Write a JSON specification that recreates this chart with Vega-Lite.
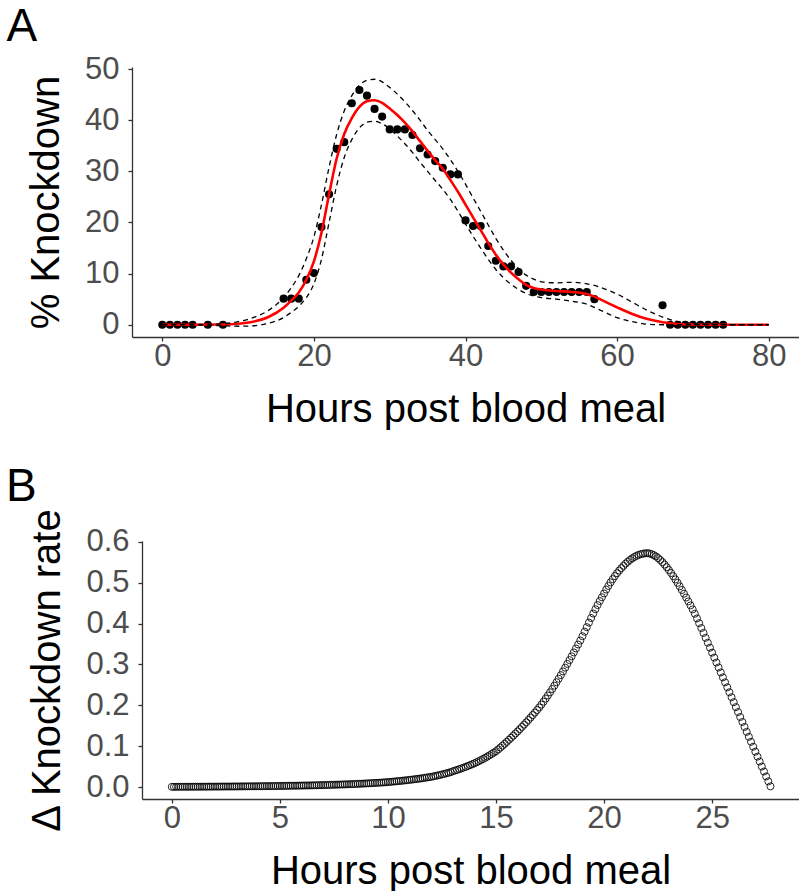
{
"$schema": "https://vega.github.io/schema/vega-lite/v6.json",
"background": "white",
"padding": {"left": 5, "top": 4, "right": 0, "bottom": 0},
"columns": 1,
"align": "none",
"bounds": "full",
"spacing": 34,
"config": {
  "view": {"stroke": null},
  "font": "Liberation Sans",
  "axis": {"domainColor": "#333333", "domainWidth": 1.3, "tickColor": "#333333", "tickWidth": 1.3, "tickSize": 4, "labelFontSize": 31, "labelColor": "#4d4d4d", "labelFont": "Liberation Sans", "titleFontSize": 40, "titleFont": "Liberation Sans", "titleFontWeight": "normal", "titleColor": "black", "grid": false, "titlePadding": 18},
  "axisX": {"labelPadding": 0},
  "axisY": {"labelPadding": 9},
  "title": {"fontSize": 46, "fontWeight": "normal", "font": "Liberation Sans", "anchor": "start", "frame": "bounds", "color": "black"}
},
"datasets": {
  "pts": [
    {"h":0,"k":0},{"h":1,"k":0},{"h":2,"k":0},{"h":3,"k":0},{"h":4,"k":0},{"h":6,"k":0},{"h":8,"k":0},
    {"h":16,"k":5.1},{"h":17,"k":5.1},{"h":18,"k":5.1},{"h":19,"k":8.8},{"h":20,"k":10.1},{"h":21,"k":19.1},{"h":22,"k":25.5},{"h":23,"k":34.4},{"h":24,"k":35.7},{"h":25,"k":43.3},{"h":26,"k":45.9},{"h":27,"k":44.8},{"h":28,"k":42.2},{"h":29,"k":40.7},{"h":30,"k":38.2},{"h":31,"k":38.2},{"h":32,"k":38.2},{"h":33,"k":37.1},{"h":34,"k":34.5},{"h":35,"k":33.3},{"h":36,"k":32.0},{"h":37,"k":30.7},{"h":38,"k":29.4},{"h":39,"k":29.4},
    {"h":40,"k":20.4},{"h":41,"k":19.3},{"h":42,"k":19.3},{"h":43,"k":15.4},{"h":44,"k":12.5},{"h":45,"k":11.4},{"h":46,"k":11.4},{"h":47,"k":10.3},{"h":48,"k":7.6},
    {"h":49,"k":6.4},{"h":50,"k":6.4},{"h":51,"k":6.4},{"h":52,"k":6.4},{"h":53,"k":6.4},{"h":54,"k":6.4},{"h":55,"k":6.4},{"h":56,"k":6.4},{"h":57,"k":5.0},{"h":66,"k":3.8},
    {"h":67,"k":0},{"h":68,"k":0},{"h":69,"k":0},{"h":70,"k":0},{"h":71,"k":0},{"h":72,"k":0},{"h":73,"k":0},{"h":74,"k":0}
  ],
  "fit": [
    {"h":0,"f":0,"up":0,"lo":0},{"h":4,"f":0,"up":0.05,"lo":-0.05},{"h":8,"f":0.05,"up":0.2,"lo":-0.2},{"h":10,"f":0.2,"up":0.6,"lo":-0.3},{"h":12,"f":0.6,"up":1.4,"lo":-0.2},{"h":14,"f":1.5,"up":2.8,"lo":0.3},{"h":16,"f":3.3,"up":5.3,"lo":1.4},{"h":17,"f":4.7,"up":7.2,"lo":2.4},{"h":18,"f":6.3,"up":9.6,"lo":3.6},{"h":19,"f":8.8,"up":12.9,"lo":5.3},{"h":20,"f":12.4,"up":17.2,"lo":8.0},{"h":21,"f":18.0,"up":23.5,"lo":12.8},{"h":22,"f":25.5,"up":30.8,"lo":20.0},{"h":23,"f":32.5,"up":37.2,"lo":27.2},{"h":24,"f":37.3,"up":41.8,"lo":32.7},{"h":25,"f":40.4,"up":44.8,"lo":36.2},{"h":26,"f":42.6,"up":46.8,"lo":38.5},{"h":27,"f":43.7,"up":47.8,"lo":39.6},{"h":28,"f":43.9,"up":48.0,"lo":39.8},{"h":29,"f":43.4,"up":47.5,"lo":39.3},{"h":30,"f":42.3,"up":46.4,"lo":38.3},{"h":31,"f":41.0,"up":45.1,"lo":36.9},{"h":32,"f":39.5,"up":43.6,"lo":35.4},{"h":33,"f":37.8,"up":41.9,"lo":33.7},{"h":34,"f":35.9,"up":40.0,"lo":31.8},{"h":35,"f":34.0,"up":38.0,"lo":30.0},{"h":36,"f":32.2,"up":36.2,"lo":28.2},{"h":37,"f":30.5,"up":34.4,"lo":26.5},{"h":38,"f":28.3,"up":32.3,"lo":24.5},{"h":39,"f":26.0,"up":30.0,"lo":22.2},{"h":40,"f":23.5,"up":27.5,"lo":19.7},{"h":41,"f":21.0,"up":24.8,"lo":17.3},{"h":42,"f":18.5,"up":22.2,"lo":15.0},{"h":43,"f":16.0,"up":19.5,"lo":12.8},{"h":44,"f":13.7,"up":16.9,"lo":10.8},{"h":45,"f":11.8,"up":14.6,"lo":9.2},{"h":46,"f":10.2,"up":12.6,"lo":7.9},{"h":47,"f":8.9,"up":11.0,"lo":6.9},{"h":48,"f":7.8,"up":9.7,"lo":6.1},{"h":49,"f":7.2,"up":8.9,"lo":5.6},{"h":50,"f":6.9,"up":8.4,"lo":5.3},{"h":52,"f":6.6,"up":8.2,"lo":5.0},{"h":54,"f":6.4,"up":8.3,"lo":4.6},{"h":56,"f":6.0,"up":8.0,"lo":4.0},{"h":57,"f":5.5,"up":7.7,"lo":3.4},{"h":58,"f":4.8,"up":7.2,"lo":2.7},{"h":60,"f":3.4,"up":6.0,"lo":1.4},{"h":62,"f":2.1,"up":4.4,"lo":0.6},{"h":64,"f":1.1,"up":2.8,"lo":0.1},{"h":66,"f":0.5,"up":1.5,"lo":0},{"h":68,"f":0.15,"up":0.6,"lo":0},{"h":70,"f":0.05,"up":0.2,"lo":0},{"h":72,"f":0,"up":0.05,"lo":0},{"h":75,"f":0,"up":0,"lo":0},{"h":80,"f":0,"up":0,"lo":0}
  ],
  "rate": [
    {"h":0.0,"r":0.0010},{"h":0.1,"r":0.0010},{"h":0.2,"r":0.0011},{"h":0.3,"r":0.0011},{"h":0.4,"r":0.0011},{"h":0.5,"r":0.0011},{"h":0.6,"r":0.0012},{"h":0.7,"r":0.0012},{"h":0.8,"r":0.0012},{"h":0.9,"r":0.0012},
    {"h":1.0,"r":0.0013},{"h":1.1,"r":0.0013},{"h":1.2,"r":0.0013},{"h":1.3,"r":0.0013},{"h":1.4,"r":0.0014},{"h":1.5,"r":0.0014},{"h":1.6,"r":0.0014},{"h":1.7,"r":0.0015},{"h":1.8,"r":0.0015},{"h":1.9,"r":0.0015},
    {"h":2.0,"r":0.0016},{"h":2.1,"r":0.0016},{"h":2.2,"r":0.0016},{"h":2.3,"r":0.0017},{"h":2.4,"r":0.0017},{"h":2.5,"r":0.0018},{"h":2.6,"r":0.0018},{"h":2.7,"r":0.0018},{"h":2.8,"r":0.0019},{"h":2.9,"r":0.0019},
    {"h":3.0,"r":0.0020},{"h":3.1,"r":0.0020},{"h":3.2,"r":0.0021},{"h":3.3,"r":0.0021},{"h":3.4,"r":0.0022},{"h":3.5,"r":0.0022},{"h":3.6,"r":0.0023},{"h":3.7,"r":0.0023},{"h":3.8,"r":0.0024},{"h":3.9,"r":0.0024},
    {"h":4.0,"r":0.0025},{"h":4.1,"r":0.0026},{"h":4.2,"r":0.0026},{"h":4.3,"r":0.0027},{"h":4.4,"r":0.0027},{"h":4.5,"r":0.0028},{"h":4.6,"r":0.0029},{"h":4.7,"r":0.0029},{"h":4.8,"r":0.0030},{"h":4.9,"r":0.0031},
    {"h":5.0,"r":0.0032},{"h":5.1,"r":0.0032},{"h":5.2,"r":0.0033},{"h":5.3,"r":0.0034},{"h":5.4,"r":0.0035},{"h":5.5,"r":0.0036},{"h":5.6,"r":0.0037},{"h":5.7,"r":0.0038},{"h":5.8,"r":0.0039},{"h":5.9,"r":0.0040},
    {"h":6.0,"r":0.0041},{"h":6.1,"r":0.0042},{"h":6.2,"r":0.0043},{"h":6.3,"r":0.0044},{"h":6.4,"r":0.0045},{"h":6.5,"r":0.0046},{"h":6.6,"r":0.0048},{"h":6.7,"r":0.0049},{"h":6.8,"r":0.0050},{"h":6.9,"r":0.0052},
    {"h":7.0,"r":0.0053},{"h":7.1,"r":0.0055},{"h":7.2,"r":0.0056},{"h":7.3,"r":0.0058},{"h":7.4,"r":0.0059},{"h":7.5,"r":0.0061},{"h":7.6,"r":0.0063},{"h":7.7,"r":0.0064},{"h":7.8,"r":0.0066},{"h":7.9,"r":0.0068},
    {"h":8.0,"r":0.0070},{"h":8.1,"r":0.0072},{"h":8.2,"r":0.0074},{"h":8.3,"r":0.0076},{"h":8.4,"r":0.0078},{"h":8.5,"r":0.0081},{"h":8.6,"r":0.0083},{"h":8.7,"r":0.0085},{"h":8.8,"r":0.0088},{"h":8.9,"r":0.0091},
    {"h":9.0,"r":0.0093},{"h":9.1,"r":0.0096},{"h":9.2,"r":0.0099},{"h":9.3,"r":0.0102},{"h":9.4,"r":0.0105},{"h":9.5,"r":0.0108},{"h":9.6,"r":0.0111},{"h":9.7,"r":0.0115},{"h":9.8,"r":0.0118},{"h":9.9,"r":0.0122},
    {"h":10.0,"r":0.0126},{"h":10.1,"r":0.0131},{"h":10.2,"r":0.0136},{"h":10.3,"r":0.0141},{"h":10.4,"r":0.0146},{"h":10.5,"r":0.0151},{"h":10.6,"r":0.0156},{"h":10.7,"r":0.0162},{"h":10.8,"r":0.0168},{"h":10.9,"r":0.0174},
    {"h":11.0,"r":0.0180},{"h":11.1,"r":0.0186},{"h":11.2,"r":0.0193},{"h":11.3,"r":0.0200},{"h":11.4,"r":0.0207},{"h":11.5,"r":0.0214},{"h":11.6,"r":0.0222},{"h":11.7,"r":0.0230},{"h":11.8,"r":0.0238},{"h":11.9,"r":0.0246},
    {"h":12.0,"r":0.0255},{"h":12.1,"r":0.0265},{"h":12.2,"r":0.0276},{"h":12.3,"r":0.0288},{"h":12.4,"r":0.0300},{"h":12.5,"r":0.0313},{"h":12.6,"r":0.0326},{"h":12.7,"r":0.0340},{"h":12.8,"r":0.0354},{"h":12.9,"r":0.0369},
    {"h":13.0,"r":0.0390},{"h":13.1,"r":0.0407},{"h":13.2,"r":0.0424},{"h":13.3,"r":0.0442},{"h":13.4,"r":0.0461},{"h":13.5,"r":0.0480},{"h":13.6,"r":0.0500},{"h":13.7,"r":0.0520},{"h":13.8,"r":0.0541},{"h":13.9,"r":0.0563},
    {"h":14.0,"r":0.0585},{"h":14.1,"r":0.0610},{"h":14.2,"r":0.0636},{"h":14.3,"r":0.0663},{"h":14.4,"r":0.0691},{"h":14.5,"r":0.0720},{"h":14.6,"r":0.0750},{"h":14.7,"r":0.0781},{"h":14.8,"r":0.0813},{"h":14.9,"r":0.0846},
    {"h":15.0,"r":0.0880},{"h":15.1,"r":0.0924},{"h":15.2,"r":0.0969},{"h":15.3,"r":0.1015},{"h":15.4,"r":0.1062},{"h":15.5,"r":0.1110},{"h":15.6,"r":0.1159},{"h":15.7,"r":0.1209},{"h":15.8,"r":0.1260},{"h":15.9,"r":0.1312},
    {"h":16.0,"r":0.1365},{"h":16.1,"r":0.1419},{"h":16.2,"r":0.1474},{"h":16.3,"r":0.1530},{"h":16.4,"r":0.1587},{"h":16.5,"r":0.1645},{"h":16.6,"r":0.1704},{"h":16.7,"r":0.1764},{"h":16.8,"r":0.1825},{"h":16.9,"r":0.1887},
    {"h":17.0,"r":0.1950},{"h":17.1,"r":0.2020},{"h":17.2,"r":0.2092},{"h":17.3,"r":0.2166},{"h":17.4,"r":0.2242},{"h":17.5,"r":0.2320},{"h":17.6,"r":0.2400},{"h":17.7,"r":0.2482},{"h":17.8,"r":0.2566},{"h":17.9,"r":0.2652},
    {"h":18.0,"r":0.2740},{"h":18.1,"r":0.2830},{"h":18.2,"r":0.2921},{"h":18.3,"r":0.3013},{"h":18.4,"r":0.3106},{"h":18.5,"r":0.3200},{"h":18.6,"r":0.3295},{"h":18.7,"r":0.3391},{"h":18.8,"r":0.3488},{"h":18.9,"r":0.3586},
    {"h":19.0,"r":0.3690},{"h":19.1,"r":0.3800},{"h":19.2,"r":0.3912},{"h":19.3,"r":0.4024},{"h":19.4,"r":0.4135},{"h":19.5,"r":0.4244},{"h":19.6,"r":0.4350},{"h":19.7,"r":0.4452},{"h":19.8,"r":0.4550},{"h":19.9,"r":0.4643},
    {"h":20.0,"r":0.4735},{"h":20.1,"r":0.4830},{"h":20.2,"r":0.4920},{"h":20.3,"r":0.5005},{"h":20.4,"r":0.5085},{"h":20.5,"r":0.5160},{"h":20.6,"r":0.5230},{"h":20.7,"r":0.5295},{"h":20.8,"r":0.5355},{"h":20.9,"r":0.5410},
    {"h":21.0,"r":0.5465},{"h":21.1,"r":0.5512},{"h":21.2,"r":0.5555},{"h":21.3,"r":0.5593},{"h":21.4,"r":0.5626},{"h":21.5,"r":0.5654},{"h":21.6,"r":0.5677},{"h":21.7,"r":0.5695},{"h":21.8,"r":0.5708},{"h":21.9,"r":0.5716},
    {"h":22.0,"r":0.5720},{"h":22.1,"r":0.5712},{"h":22.2,"r":0.5696},{"h":22.3,"r":0.5672},{"h":22.4,"r":0.5640},{"h":22.5,"r":0.5600},{"h":22.6,"r":0.5553},{"h":22.7,"r":0.5500},{"h":22.8,"r":0.5441},{"h":22.9,"r":0.5377},
    {"h":23.0,"r":0.5308},{"h":23.1,"r":0.5235},{"h":23.2,"r":0.5158},{"h":23.3,"r":0.5078},{"h":23.4,"r":0.4995},{"h":23.5,"r":0.4909},{"h":23.6,"r":0.4820},{"h":23.7,"r":0.4729},{"h":23.8,"r":0.4636},{"h":23.9,"r":0.4541},
    {"h":24.0,"r":0.4444},{"h":24.1,"r":0.4346},{"h":24.2,"r":0.4240},{"h":24.3,"r":0.4125},{"h":24.4,"r":0.4008},{"h":24.5,"r":0.3890},{"h":24.6,"r":0.3771},{"h":24.7,"r":0.3651},{"h":24.8,"r":0.3531},{"h":24.9,"r":0.3410},
    {"h":25.0,"r":0.3289},{"h":25.1,"r":0.3168},{"h":25.2,"r":0.3047},{"h":25.3,"r":0.2926},{"h":25.4,"r":0.2805},{"h":25.5,"r":0.2684},{"h":25.6,"r":0.2563},{"h":25.7,"r":0.2442},{"h":25.8,"r":0.2321},{"h":25.9,"r":0.2200},
    {"h":26.0,"r":0.2079},{"h":26.1,"r":0.1958},{"h":26.2,"r":0.1837},{"h":26.3,"r":0.1716},{"h":26.4,"r":0.1595},{"h":26.5,"r":0.1474},{"h":26.6,"r":0.1353},{"h":26.7,"r":0.1232},{"h":26.8,"r":0.1111},{"h":26.9,"r":0.0990},
    {"h":27.0,"r":0.0869},{"h":27.1,"r":0.0748},{"h":27.2,"r":0.0627},{"h":27.3,"r":0.0506},{"h":27.4,"r":0.0385},{"h":27.5,"r":0.0264},{"h":27.6,"r":0.0143},{"h":27.7,"r":0.0022}
  ]
},
"concat": [
  {
    "title": {"text": "A", "dx": -20, "offset": 2},
    "width": 667,
    "height": 270,
    "layer": [
      {"data": {"name": "pts"}, "mark": {"type": "circle", "size": 66, "color": "black", "opacity": 1},
       "encoding": {
         "x": {"field": "h", "type": "quantitative", "scale": {"domain": [-4, 84], "nice": false, "zero": false}, "axis": {"title": "Hours post blood meal", "values": [0, 20, 40, 60, 80]}},
         "y": {"field": "k", "type": "quantitative", "scale": {"domain": [-2.4, 50.4], "nice": false, "zero": false}, "axis": {"title": "% Knockdown", "values": [0, 10, 20, 30, 40, 50]}}
       }},
      {"data": {"name": "fit"}, "mark": {"type": "line", "color": "#ff0000", "strokeWidth": 2.6, "interpolate": "monotone"},
       "encoding": {"x": {"field": "h", "type": "quantitative"}, "y": {"field": "f", "type": "quantitative"}}},
      {"data": {"name": "fit"}, "mark": {"type": "line", "color": "black", "strokeWidth": 1.3, "strokeDash": [5, 4], "interpolate": "monotone"},
       "encoding": {"x": {"field": "h", "type": "quantitative"}, "y": {"field": "up", "type": "quantitative"}}},
      {"data": {"name": "fit"}, "mark": {"type": "line", "color": "black", "strokeWidth": 1.3, "strokeDash": [5, 4], "interpolate": "monotone"},
       "encoding": {"x": {"field": "h", "type": "quantitative"}, "y": {"field": "lo", "type": "quantitative"}}}
    ]
  },
  {
    "title": {"text": "B", "dx": -22, "offset": -3},
    "width": 667,
    "height": 258,
    "data": {"name": "rate"},
    "mark": {"type": "point", "shape": "circle", "filled": false, "size": 50, "strokeWidth": 1, "color": "black", "opacity": 0.85},
    "encoding": {
      "x": {"field": "h", "type": "quantitative", "scale": {"domain": [-1.38, 29.02], "range": [10, 667], "nice": false, "zero": false}, "axis": {"title": "Hours post blood meal", "values": [0, 5, 10, 15, 20, 25]}},
      "y": {"field": "r", "type": "quantitative", "scale": {"domain": [-0.0287, 0.6017], "nice": false, "zero": false}, "axis": {"title": "Δ Knockdown rate", "offset": -10, "values": [0, 0.1, 0.2, 0.3, 0.4, 0.5, 0.6], "format": ".1f"}}
    }
  }
]
}
